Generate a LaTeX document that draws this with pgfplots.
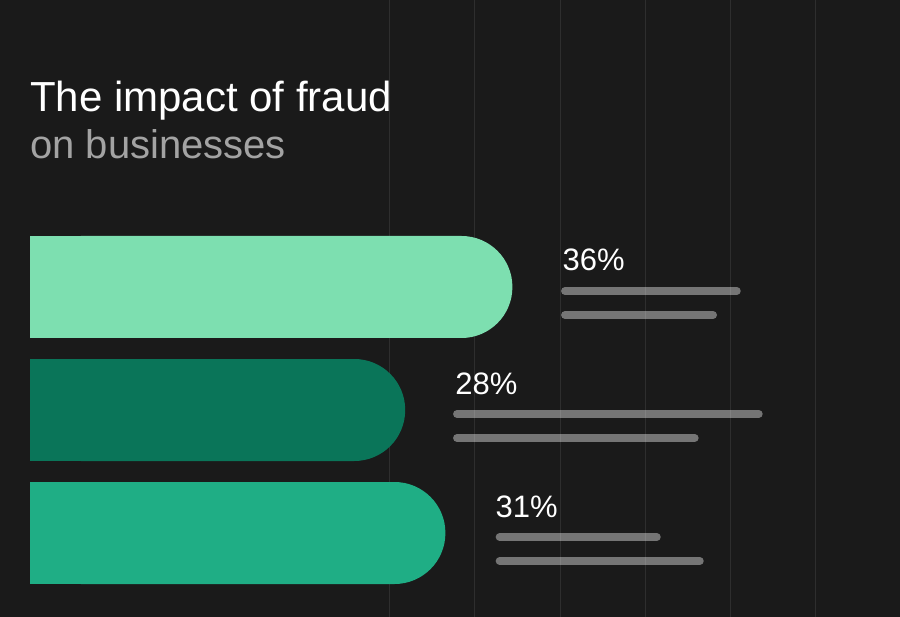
\documentclass[border=0pt]{standalone}
\usepackage{pgfplots}
\pgfplotsset{compat=1.18}
\usepackage{fontspec}
\setmainfont{Liberation Sans}
\definecolor{bg}{HTML}{1A1A1A}
\definecolor{gridc}{HTML}{2E2E2E}
\definecolor{mintA}{HTML}{7DDFB0}
\definecolor{mintB}{HTML}{0A7559}
\definecolor{mintC}{HTML}{1FAE85}
\definecolor{subgray}{HTML}{A3A3A3}
\pgfplotsset{
  roundbar/.style={xbar, bar width=102pt, bar shift=0pt, draw=none,
    rounded corners=50.9pt, nodes near coords, point meta=x,
    nodes near coords={\pgfmathprintnumber{\pgfplotspointmeta}\%},
    every node near coord/.append style={anchor=base west, inner sep=0pt,
      xshift=50pt, yshift=16pt, fill=none, text=white,
      /pgf/number format/assume math mode=true,
      font=\fontsize{31}{31}\selectfont}},
  squarebar/.style={xbar, bar width=102pt, bar shift=0pt, draw=none,
    x filter/.expression={x/2}},
  txtline/.style={white, opacity=0.4, line width=8pt, line cap=round},
}
\begin{document}
\begin{tikzpicture}
\fill[bg] (0,0) rectangle (900pt,617pt);
\begin{axis}[
  at={(30pt,0pt)}, anchor=south west,
  scale only axis, width=870pt, height=617pt,
  xmin=0, xmax=64.925, ymin=-2.3333, ymax=2.6829, y dir=reverse,
  axis line style={draw=none}, tick style={draw=none},
  xtick={26.84,33.20,39.56,45.92,52.28,58.64}, ytick=\empty,
  xticklabels={},
  xmajorgrids, grid style={gridc, line width=1pt},
  /pgf/number format/assume math mode=true,
]
% bars: rounded right end, square left end
\addplot[roundbar, fill=mintA] coordinates {(36,0)};
\addplot[squarebar, fill=mintA] coordinates {(36,0)};
\addplot[roundbar, fill=mintB] coordinates {(28,1)};
\addplot[squarebar, fill=mintB] coordinates {(28,1)};
\addplot[roundbar, fill=mintC] coordinates {(31,2)};
\addplot[squarebar, fill=mintC] coordinates {(31,2)};
% placeholder text lines
\addplot[txtline] coordinates {(39.93,0.0325) (52.74,0.0325)};
\addplot[txtline] coordinates {(39.93,0.2276) (50.97,0.2276)};
\addplot[txtline] coordinates {(31.87,1.0325) (54.38,1.0325)};
\addplot[txtline] coordinates {(31.87,1.2276) (49.60,1.2276)};
\addplot[txtline] coordinates {(35.05,2.0325) (46.77,2.0325)};
\addplot[txtline] coordinates {(35.05,2.2276) (49.98,2.2276)};
\end{axis}
\node[anchor=base west, inner sep=0pt, text=white, font=\fontsize{42}{47}\selectfont]
  at (30pt,505pt) {The impact of fraud};
\node[anchor=base west, inner sep=0pt, text=subgray, font=\fontsize{40}{47}\selectfont]
  at (30pt,458pt) {on businesses};
\pgfresetboundingbox
\path (0,0) rectangle (900pt,617pt);
\end{tikzpicture}
\end{document}
